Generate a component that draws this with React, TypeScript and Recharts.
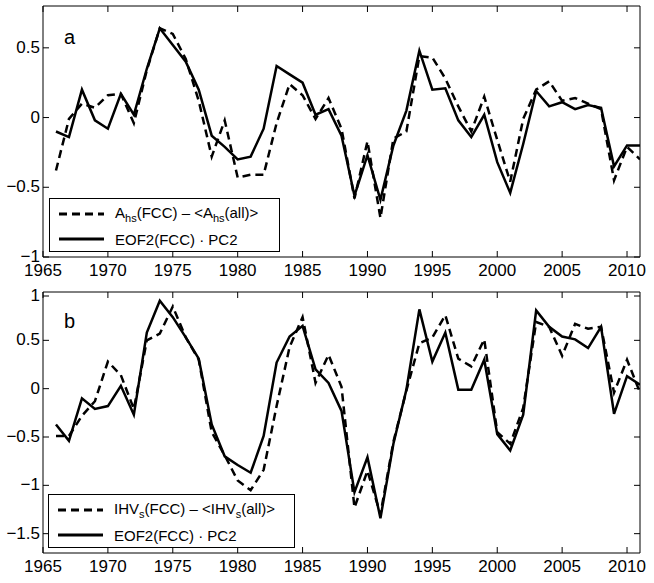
import { LineChart, Line, XAxis, YAxis, ReferenceArea, Legend } from 'recharts'

const years = [
  1966, 1967, 1968, 1969, 1970, 1971, 1972, 1973, 1974, 1975, 1976, 1977, 1978, 1979, 1980, 1981,
  1982, 1983, 1984, 1985, 1986, 1987, 1988, 1989, 1990, 1991, 1992, 1993, 1994, 1995, 1996, 1997,
  1998, 1999, 2000, 2001, 2002, 2003, 2004, 2005, 2006, 2007, 2008, 2009, 2010, 2011,
]

// panel a
const ahsDiff = [
  -0.38, -0.01, 0.1, 0.07, 0.16, 0.17, -0.04, 0.34, 0.64, 0.6, 0.42, 0.12, -0.28, -0.02, -0.43, -0.41,
  -0.41, -0.04, 0.24, 0.16, -0.01, 0.14, -0.08, -0.58, -0.17, -0.72, -0.15, -0.1, 0.44, 0.43, 0.28, 0.08,
  -0.1, 0.15, -0.16, -0.46, -0.01, 0.2, 0.26, 0.12, 0.14, 0.1, 0.06, -0.45, -0.21, -0.3,
]
const eofA = [
  -0.1, -0.14, 0.2, -0.02, -0.08, 0.17, 0.02, 0.35, 0.64, 0.52, 0.4, 0.2, -0.13, -0.21, -0.3, -0.28,
  -0.08, 0.37, 0.31, 0.25, 0.02, 0.06, -0.13, -0.56, -0.27, -0.59, -0.2, 0.05, 0.48, 0.2, 0.21, -0.02,
  -0.14, 0.02, -0.32, -0.54, -0.19, 0.19, 0.08, 0.11, 0.06, 0.09, 0.07, -0.35, -0.2, -0.2,
]

// panel b
const ihvDiff = [
  -0.49, -0.49, -0.28, -0.13, 0.28, 0.14, -0.21, 0.5, 0.57, 0.85, 0.53, 0.3, -0.45, -0.69, -0.95, -1.05,
  -0.84, -0.18, 0.43, 0.74, 0.06, 0.35, 0.02, -1.23, -0.85, -1.3, -0.55, -0.02, 0.47, 0.53, 0.76, 0.31,
  0.23, 0.51, -0.45, -0.57, -0.2, 0.69, 0.64, 0.34, 0.67, 0.62, 0.64, -0.04, 0.3, -0.04,
]
const eofB = [
  -0.37, -0.54, -0.1, -0.21, -0.18, 0.03, -0.27, 0.58, 0.91, 0.74, 0.53, 0.31, -0.37, -0.7, -0.79, -0.87,
  -0.49, 0.27, 0.54, 0.65, 0.2, 0.06, -0.23, -1.07, -0.71, -1.34, -0.57, -0.01, 0.82, 0.28, 0.58, -0.01,
  -0.01, 0.3, -0.47, -0.64, -0.27, 0.81, 0.64, 0.54, 0.51, 0.42, 0.64, -0.26, 0.13, 0.04,
]

const xTicks = [1965, 1970, 1975, 1980, 1985, 1990, 1995, 2000, 2005, 2010]
const yTicksA = [-1, -0.5, 0, 0.5]
const yTicksB = [-1.5, -1, -0.5, 0, 0.5, 1]

const dataA = years.map((year, i) => ({ year, diff: ahsDiff[i], eof: eofA[i] }))
const dataB = years.map((year, i) => ({ year, diff: ihvDiff[i], eof: eofB[i] }))

const FONT = '"Liberation Sans", Arial, Helvetica, sans-serif'
const LEFT = 43
const RIGHT = 640
const TICK = 6

const fmt = (v: number) => (v < 0 ? '\u2212' + Math.abs(v) : String(v))

function Sub({ children }: { children: string }) {
  return <span style={{ fontSize: 11, verticalAlign: -4 }}>{children}</span>
}

function LegendBox({ w, labels }: { w: number; labels: any[] }) {
  return (
    <div
      style={{
        width: w,
        height: 54,
        boxSizing: 'border-box',
        border: '1px solid #000',
        background: '#fff',
        position: 'relative',
        fontFamily: FONT,
        fontSize: 15,
        color: '#000',
      }}
    >
      {labels.map((lab, i) => (
        <div key={i} style={{ position: 'absolute', left: 9, top: 5 + i * 25, height: 20, display: 'flex', alignItems: 'center', whiteSpace: 'nowrap' }}>
          <svg width={46} height={6} style={{ marginRight: 10 }}>
            <line x1={0} x2={45} y1={3} y2={3} stroke="#000" strokeWidth={3} strokeDasharray={i === 0 ? '8 5' : undefined} />
          </svg>
          <span>{lab}</span>
        </div>
      ))}
    </div>
  )
}

function Panel({
  data,
  height,
  top,
  xAxisH,
  yDomain,
  yTicks,
  letter,
  letterTop,
  legendLabels,
  legendLeft,
  legendTop,
  legendW,
}: any) {
  const bottom = height - xAxisH
  const xTick = (p: any) => (
    <g key={p.index}>
      <line x1={p.x} x2={p.x} y1={bottom} y2={bottom - TICK} stroke="#000" />
      <line x1={p.x} x2={p.x} y1={top} y2={top + TICK} stroke="#000" />
      <text x={p.x} y={bottom + 19} textAnchor="middle" fontFamily={FONT} fontSize={17} fill="#000">
        {p.payload.value}
      </text>
    </g>
  )
  const yTick = (p: any) => (
    <g key={p.index}>
      <line x1={LEFT} x2={LEFT + TICK} y1={p.y} y2={p.y} stroke="#000" />
      <line x1={RIGHT} x2={RIGHT - TICK} y1={p.y} y2={p.y} stroke="#000" />
      <text x={LEFT - 3} y={p.y + 5} textAnchor="end" fontFamily={FONT} fontSize={17} fill="#000">
        {fmt(p.payload.value)}
      </text>
    </g>
  )
  return (
    <div style={{ position: 'relative', width: 654, height }}>
      <LineChart width={654} height={height} data={data} margin={{ top, right: 654 - RIGHT, bottom: 0, left: 0 }}>
        <XAxis
          dataKey="year"
          type="number"
          domain={[1965, 2011]}
          ticks={xTicks}
          height={xAxisH}
          axisLine={false}
          tickLine={false}
          tick={xTick}
          allowDataOverflow
        />
        <YAxis
          type="number"
          domain={yDomain}
          ticks={yTicks}
          width={LEFT}
          axisLine={false}
          tickLine={false}
          tick={yTick}
          allowDataOverflow
        />
        <ReferenceArea x1={1965} x2={2011} y1={yDomain[0]} y2={yDomain[1]} fill="none" stroke="#000" strokeWidth={1} fillOpacity={0} />
        <Line dataKey="diff" stroke="#000" strokeWidth={2.5} strokeDasharray="8 5" dot={false} isAnimationActive={false} />
        <Line dataKey="eof" stroke="#000" strokeWidth={2.5} dot={false} isAnimationActive={false} />
        <Legend
          layout="vertical"
          align="center"
          verticalAlign="middle"
          wrapperStyle={{ left: legendLeft, top: legendTop, width: legendW, height: 54 }}
          content={() => <LegendBox w={legendW} labels={legendLabels} />}
        />
      </LineChart>
      <div style={{ position: 'absolute', left: LEFT + 21, top: letterTop, fontFamily: FONT, fontSize: 20, lineHeight: '20px' }}>
        {letter}
      </div>
    </div>
  )
}

export default function App() {
  const labelsA = [
    <>
      A<Sub>hs</Sub>(FCC) – &lt;A<Sub>hs</Sub>(all)&gt;
    </>,
    <>EOF2(FCC) · PC2</>,
  ]
  const labelsB = [
    <>
      IHV<Sub>s</Sub>(FCC) – &lt;IHV<Sub>s</Sub>(all)&gt;
    </>,
    <>EOF2(FCC) · PC2</>,
  ]
  return (
    <div style={{ position: 'absolute', left: 0, top: 0, width: 654, height: 583, background: '#fff' }}>
      <Panel
        data={dataA}
        height={287}
        top={6}
        xAxisH={30}
        yDomain={[-1, 0.8]}
        yTicks={yTicksA}
        letter="a"
        letterTop={27}
        legendLabels={labelsA}
        legendLeft={49}
        legendTop={198}
        legendW={231}
      />
      <Panel
        data={dataB}
        height={296}
        top={5}
        xAxisH={30}
        yDomain={[-1.7, 1]}
        yTicks={yTicksB}
        letter="b"
        letterTop={24}
        legendLabels={labelsB}
        legendLeft={48}
        legendTop={207}
        legendW={247}
      />
    </div>
  )
}
